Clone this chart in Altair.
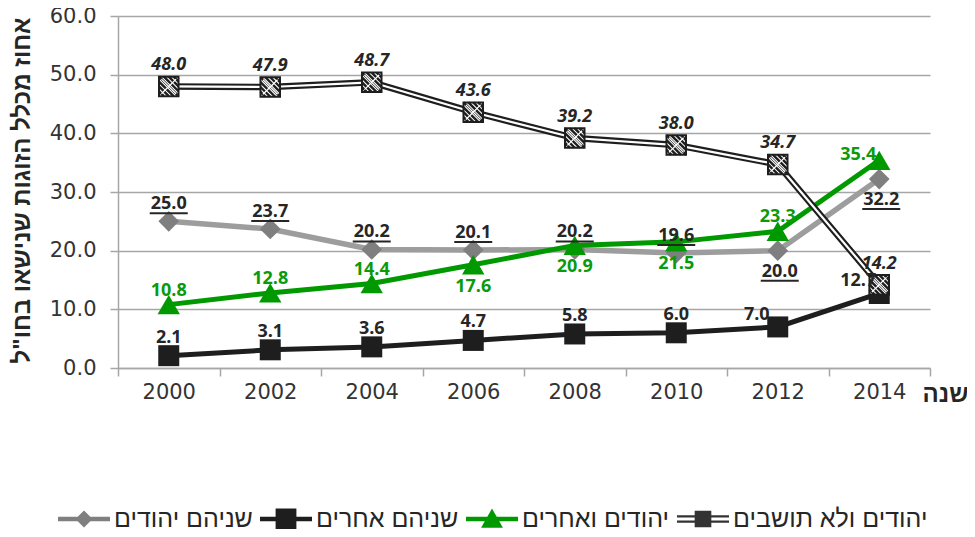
import altair as alt
import pandas as pd

# ---------------- data ----------------
years = ["2000", "2002", "2004", "2006", "2008", "2010", "2012", "2014"]
series_names = ["שניהם יהודים", "שניהם אחרים", "יהודים ואחרים", "יהודים ולא תושבים"]
both_jewish = [25.0, 23.7, 20.2, 20.1, 20.2, 19.6, 20.0, 32.2]
both_other = [2.1, 3.1, 3.6, 4.7, 5.8, 6.0, 7.0, 12.7]
jewish_other = [10.8, 12.8, 14.4, 17.6, 20.9, 21.5, 23.3, 35.4]
jewish_nonresident = [48.0, 47.9, 48.7, 43.6, 39.2, 38.0, 34.7, 14.2]
y_ticks = [0, 10, 20, 30, 40, 50, 60]
y_title = 'אחוז מכלל הזוגות שנישאו בחו"ל'
x_title = "שנה"

# label placement (above / below / left of the point)
side_both_jewish = ["above"] * 6 + ["below", "below"]
side_both_other = ["above"] * 6 + ["left", "left"]
side_jewish_other = ["above"] * 3 + ["below"] * 3 + ["above", "left"]
side_jewish_nonresident = ["above"] * 8

all_values = [both_jewish, both_other, jewish_other, jewish_nonresident]
all_sides = [side_both_jewish, side_both_other, side_jewish_other, side_jewish_nonresident]

rows = []
for name, vals, sides in zip(series_names, all_values, all_sides):
    for yr, v, s in zip(years, vals, sides):
        rows.append({"series": name, "year": yr, "value": v, "side": s})
df = pd.DataFrame(rows)

# ---------------- styles ----------------
GRID = "#a6a6a6"
TXT = "#262626"
GRAY_LINE = "#9d9d9d"
GRAY_MARK = "#7f7f7f"
BLACK = "#1e1e1e"
GREEN = "#009a00"
GREEN_TXT = "#0a9a0a"
NUM_FONT = "Open Sans"
AX_FONT = "DejaVu Sans"
HEB_FONT = "Liberation Sans"

x_enc = alt.X(
    "year:O",
    scale=alt.Scale(type="band", paddingInner=0, paddingOuter=0, domain=years),
    axis=alt.Axis(
        title=x_title, grid=False, labelAngle=0, tickBand="extent", tickSize=8,
        labelPadding=5, titleX=827, titleY=26, titleAlign="center",
        titleBaseline="middle", titleFont=HEB_FONT, titleFontSize=24,
        titleFontWeight="bold", titleColor=TXT,
    ),
)
y_enc = alt.Y(
    "value:Q",
    scale=alt.Scale(domain=[0, 60], nice=False, zero=True),
    axis=alt.Axis(
        title=y_title, values=y_ticks, format=".1f", tickSize=8, labelPadding=14,
        titleAngle=270, titleX=-96, titleY=174, titleAlign="center",
        titleBaseline="middle", titleFont=HEB_FONT, titleFontSize=24,
        titleFontWeight="bold", titleColor=TXT,
    ),
)

base = alt.Chart(df).encode(x=x_enc, y=y_enc)


def sel(name):
    return base.transform_filter(alt.datum.series == name)


layers = []

# gray series: both Jewish
g = sel(series_names[0])
layers.append(g.mark_line(color=GRAY_LINE, strokeWidth=5.5))
layers.append(g.mark_point(shape="diamond", filled=True, size=430, color=GRAY_MARK, opacity=1))

# black series: both other
b = sel(series_names[1])
layers.append(b.mark_line(color=BLACK, strokeWidth=5))
layers.append(b.mark_point(shape="square", filled=True, size=441, color=BLACK, opacity=1))

# green series
gr = sel(series_names[2])
layers.append(gr.mark_line(color=GREEN, strokeWidth=5))
layers.append(gr.mark_point(shape="triangle-up", filled=True, size=500, color=GREEN, opacity=1))

# double line series
d = sel(series_names[3])
layers.append(d.mark_line(color=BLACK, strokeWidth=6.5))
layers.append(d.mark_line(color="white", strokeWidth=2.2))
layers.append(d.mark_point(shape="square", filled=True, size=380, fill="white",
                           stroke=BLACK, strokeWidth=2, opacity=1))
hatch = ("M-1,0.5L-0.5,1M-1,0L0,1M-1,-0.5L0.5,1M-1,-1L1,1M-0.5,-1L1,0.5"
         "M0,-1L1,0M0.5,-1L1,-0.5")
layers.append(d.mark_point(shape=hatch, filled=False, size=380, stroke=BLACK,
                           strokeWidth=2.4, opacity=1))
xcross = "M-0.75,-0.75L0.75,0.75M-0.75,0.75L0.75,-0.75"
layers.append(d.mark_point(shape=xcross, filled=False, size=380, stroke="white",
                           strokeWidth=1.3, opacity=1))

# ---------------- data labels ----------------
offsets = {
    series_names[0]: {"above": (0, -17), "below": (2, 21)},
    series_names[1]: {"above": (0, -18), "left": (-21, -12)},
    series_names[2]: {"above": (0, -14), "below": (0, 22), "left": (-21, -5)},
    series_names[3]: {"above": (0, -21)},
}
label_style = {
    series_names[0]: dict(color=TXT, fontStyle="normal"),
    series_names[1]: dict(color=TXT, fontStyle="normal"),
    series_names[2]: dict(color=GREEN_TXT, fontStyle="normal"),
    series_names[3]: dict(color=TXT, fontStyle="italic"),
}

for name, sides in offsets.items():
    for side, (dx, dy) in sides.items():
        sub = base.transform_filter(
            (alt.datum.series == name) & (alt.datum.side == side)
        )
        layers.append(
            sub.mark_text(
                font=NUM_FONT, fontSize=18, fontWeight="bold", dx=dx, dy=dy,
                baseline="middle", align="center", **label_style[name]
            ).encode(text=alt.Text("value:Q", format=".1f"))
        )
        if name == series_names[0]:
            layers.append(
                sub.mark_tick(orient="horizontal", size=38, thickness=2, color=TXT,
                              opacity=1, xOffset=dx, yOffset=dy + 9)
            )

# ---------------- legend (scale-driven, no drawn points) ----------------
legend_colors = [GRAY_MARK, BLACK, GREEN, "#333333"]
legend_paths = [
    "M-1,-0.09L1,-0.09L1,0.09L-1,0.09Z M0,-0.33L0.33,0L0,0.33L-0.33,0Z",
    "M-1,-0.09L1,-0.09L1,0.09L-1,0.09Z M-0.4,-0.4L0.4,-0.4L0.4,0.4L-0.4,0.4Z",
    "M-1,-0.09L1,-0.09L1,0.09L-1,0.09Z M0,-0.4L0.42,0.34L-0.42,0.34Z",
    "M-1,-0.14L1,-0.14L1,-0.06L-1,-0.06Z M-1,0.06L1,0.06L1,0.14L-1,0.14Z "
    "M-0.32,-0.32L0.32,-0.32L0.32,0.32L-0.32,0.32Z",
]
legend_def = alt.Legend(
    title=None, orient="none", legendX=-60, legendY=477, direction="horizontal",
    symbolSize=2704, symbolStrokeWidth=0, labelFont=HEB_FONT, labelFontSize=25,
    labelColor=TXT, labelOffset=4, columnPadding=7, labelLimit=400, padding=0,
)
legend_layer = alt.Chart(df).transform_filter("datum.value < -1").mark_point(
    filled=True, opacity=1
).encode(
    color=alt.Color("series:N", scale=alt.Scale(domain=series_names, range=legend_colors),
                    legend=legend_def),
    shape=alt.Shape("series:N", scale=alt.Scale(domain=series_names, range=legend_paths),
                    legend=legend_def),
)
layers.append(legend_layer)

chart = alt.layer(*layers).properties(
    width=812, height=352,
    autosize=alt.AutoSizeParams(type="none"),
    padding={"left": 110, "top": 8, "right": 37, "bottom": 161},
).configure_view(stroke=None).configure_axis(
    domainColor=GRID, domainWidth=1.5, tickColor=GRID, tickWidth=1.5,
    gridColor=GRID, gridWidth=1.5, labelFont=AX_FONT, labelFontSize=21,
    labelColor="#333333",
)

chart.save("out.html", embed_options={"renderer": "svg", "actions": False})
